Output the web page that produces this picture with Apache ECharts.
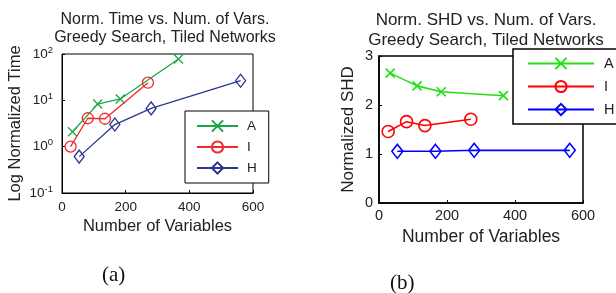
<!DOCTYPE html>
<html>
<head>
<meta charset="utf-8">
<script src="https://cdn.jsdelivr.net/npm/echarts@6/dist/echarts.min.js"></script>
<style>
  html, body { margin: 0; padding: 0; background: #fff; }
  #main { width: 616px; height: 293px; }
</style>
</head>
<body>
<div id="main"></div>
<script>
// number of variables per method
const varsA = [33, 112, 183, 366]
const varsI = [27, 81, 135, 270]
const varsH = [54, 166, 280, 561]

// (a) normalized time (log scale)
const timeA = [2.1, 8.3, 10.7, 78]
const timeI = [1.0, 4.1, 4.0, 24]
const timeH = [0.61, 3.0, 6.7, 26.5]

// (b) normalized SHD
const shdA = [2.65, 2.39, 2.27, 2.19]
const shdI = [1.46, 1.66, 1.58, 1.71]
const shdH = [1.055, 1.055, 1.075, 1.075]

const seriesNames = ['A', 'I', 'H']
// second panel gets its own legend entries (trailing space, trimmed on display)
const seriesNamesB = seriesNames.map(n => n + ' ')

const font = 'Liberation Sans, Arial, Helvetica, sans-serif'
const ink = '#222'
const colorsA = ['#1ca64b', '#ee2a2a', '#2c3590']
const colorsB = ['#22e014', '#ff0000', '#0000ff']
const crossPath = 'path://M0,0L10,10M10,0L0,10'

let pairs = (xs, ys) => xs.map((x, i) => [x, ys[i]])

function makeSeries(grid, names, data, colors, sizes, lw) {
    let symbols = [crossPath, 'circle', 'diamond']
    return names.map((name, i) => ({
        name: name,
        type: 'line',
        xAxisIndex: grid,
        yAxisIndex: grid,
        data: data[i],
        symbol: symbols[i],
        symbolSize: sizes[i],
        showSymbol: true,
        animation: false,
        lineStyle: { color: colors[i], width: lw },
        itemStyle: { color: 'rgba(0,0,0,0)', borderColor: colors[i], borderWidth: lw },
        emphasis: { disabled: true }
    }))
}

function xAxis(grid, fs, margin, nameGap, lw) {
    return {
        type: 'value', gridIndex: grid, min: 0, max: 600, interval: 200,
        name: 'Number of Variables', nameLocation: 'middle', nameGap: nameGap,
        nameTextStyle: { fontFamily: font, fontSize: fs + 3, color: ink },
        axisLine: { lineStyle: { color: '#000', width: lw } },
        axisTick: { inside: true, length: 3, lineStyle: { color: '#000' } },
        axisLabel: { fontFamily: font, fontSize: fs, color: ink, margin: margin },
        splitLine: { show: false }
    }
}

let chart = echarts.init(document.getElementById('main'), null, { renderer: 'canvas' })

let option = {
    backgroundColor: '#fff',
    animation: false,
    title: [
        {
            text: 'Norm. Time vs. Num. of Vars.\nGreedy Search, Tiled Networks',
            left: 160, top: 6, textAlign: 'center',
            textStyle: { fontFamily: font, fontSize: 16, fontWeight: 'normal', color: ink, lineHeight: 18 }
        },
        {
            text: 'Norm. SHD vs. Num. of Vars.\nGreedy Search, Tiled Networks',
            left: 481, top: 5, textAlign: 'center',
            textStyle: { fontFamily: font, fontSize: 17, fontWeight: 'normal', color: ink, lineHeight: 20 }
        }
    ],
    grid: [
        { left: 62, top: 54, width: 191, height: 139, show: true, borderColor: '#000', borderWidth: 1, backgroundColor: 'transparent' },
        { left: 379, top: 56, width: 204, height: 147, show: true, borderColor: '#000', borderWidth: 1.5, backgroundColor: 'transparent' }
    ],
    xAxis: [
        xAxis(0, 13.5, 7, 25, 1),
        xAxis(1, 14.5, 5, 21, 1.5)
    ],
    yAxis: [
        {
            type: 'log', logBase: 10, gridIndex: 0, min: 0.1, max: 100,
            name: 'Log Normalized Time', nameLocation: 'middle', nameGap: 38,
            nameTextStyle: { fontFamily: font, fontSize: 16.5, color: ink },
            axisLine: { lineStyle: { color: '#000', width: 1 } },
            axisTick: { inside: true, length: 3, lineStyle: { color: '#000' } },
            splitLine: { show: false },
            axisLabel: {
                margin: 9,
                formatter: v => '{b|10}{s|' + Math.round(Math.log10(v)) + '}',
                rich: {
                    b: { fontFamily: font, fontSize: 13.5, color: ink },
                    s: { fontFamily: font, fontSize: 9.5, color: ink, verticalAlign: 'top', padding: [0, 0, 8, 0] }
                }
            }
        },
        {
            type: 'value', gridIndex: 1, min: 0, max: 3, interval: 1,
            name: 'Normalized SHD', nameLocation: 'middle', nameGap: 22,
            nameTextStyle: { fontFamily: font, fontSize: 17, color: ink },
            axisLine: { lineStyle: { color: '#000', width: 1.5 } },
            axisTick: { inside: true, length: 3, lineStyle: { color: '#000' } },
            axisLabel: { fontFamily: font, fontSize: 14.5, color: ink, margin: 6 },
            splitLine: { show: false }
        }
    ],
    legend: [
        {
            orient: 'vertical', left: 185, top: 111,
            padding: [8, 12, 8, 11], itemGap: 7, itemWidth: 41, itemHeight: 14,
            backgroundColor: '#fff', borderColor: '#000', borderWidth: 1,
            data: seriesNames, selectedMode: false,
            textStyle: { fontFamily: font, fontSize: 13.5, color: ink, padding: [0, 0, 0, 4] }
        },
        {
            orient: 'vertical', left: 513, top: 49,
            padding: [7, 20, 7, 14], itemGap: 8, itemWidth: 66, itemHeight: 14,
            backgroundColor: '#fff', borderColor: '#000', borderWidth: 1.5,
            data: seriesNamesB, selectedMode: false,
            formatter: name => name.trim(),
            textStyle: { fontFamily: font, fontSize: 14.5, color: ink, padding: [0, 0, 0, 5] }
        }
    ],
    graphic: [
        { type: 'text', left: 102, top: 265, style: { text: '(a)', font: '21px "Liberation Serif", "Times New Roman", serif', fill: '#111' } },
        { type: 'text', left: 390, top: 273, style: { text: '(b)', font: '21px "Liberation Serif", "Times New Roman", serif', fill: '#111' } }
    ],
    series: [].concat(
        makeSeries(0, seriesNames, [pairs(varsA, timeA), pairs(varsI, timeI), pairs(varsH, timeH)], colorsA, [9, 11, [10, 13]], 1.3),
        makeSeries(1, seriesNamesB, [pairs(varsA, shdA), pairs(varsI, shdI), pairs(varsH, shdH)], colorsB, [9, 12, [11, 14]], 1.6)
    )
}

chart.setOption(option)
</script>
</body>
</html>
